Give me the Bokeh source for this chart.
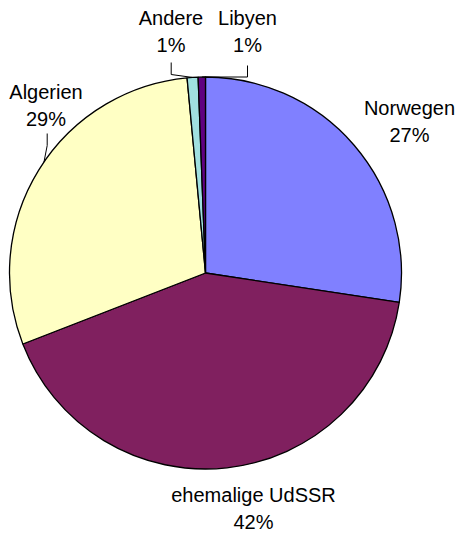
import math
from bokeh.plotting import figure
from bokeh.models import ColumnDataSource, Range1d
from bokeh.core.properties import value
from bokeh.embed import file_html
from bokeh.resources import INLINE

# ---- data (clockwise from 12 o'clock) ----
categories = ["Norwegen", "ehemalige UdSSR", "Algerien", "Andere", "Libyen"]
shares = [27.4, 41.7, 29.4, 0.9, 0.6]
colors = ["#8080FF", "#80205F", "#FFFFC4", "#A0E0E0", "#600080"]

# ---- layout (page pixel coordinates, converted below) ----
W, H = 459, 533
CX, CY, R = 205.0, 272.5, 196.0
# label block centres (page px)
label_page = [(409, 121), (253, 508), (45.5, 105), (170.5, 31), (247, 31)]
# leader lines: list of page points, final point lies on the circle at given angle (deg)
leaders = [
    ([(46.7, 133), (46.7, 145)], 145.5),
    ([(170.7, 62), (170.7, 74)], 93.8),
    ([(247.0, 65), (247.0, 76.5)], 91.0),
]

def py(y):
    return H - y

p = figure(width=W, height=H, x_range=Range1d(0, W), y_range=Range1d(0, H),
           output_backend="svg", toolbar_location=None,
           x_axis_location=None, y_axis_location=None, min_border=0)
p.grid.visible = False
p.outline_line_color = None
p.background_fill_color = "white"

total = sum(shares)
starts, ends = [], []
cum = 0.0
for s in shares:
    starts.append(math.pi / 2 - 2 * math.pi * cum / total)
    cum += s
    ends.append(math.pi / 2 - 2 * math.pi * cum / total)

src = ColumnDataSource(dict(cat=categories, start=starts, end=ends, color=colors))
p.wedge(x=CX, y=py(CY), radius=R, start_angle="start", end_angle="end", direction="clock",
        fill_color="color", line_color="black", line_width=1.3, source=src)

# leader lines
for pts, ang in leaders:
    a = math.radians(ang)
    end = (CX + R * math.cos(a), py(CY) + R * math.sin(a))
    xs = [x for x, _ in pts] + [end[0]]
    ys = [py(y) for _, y in pts] + [end[1]]
    p.line(xs, ys, line_color="black", line_width=1)

labels = [f"{c}\n{round(s * 100 / total)}%" for c, s in zip(categories, shares)]
lsrc = ColumnDataSource(dict(x=[x for x, _ in label_page], y=[py(y) for _, y in label_page], t=labels))
p.text(x="x", y="y", text="t", source=lsrc, text_align="center", text_baseline="middle",
       text_font=value("Liberation Sans"), text_font_size="20px", text_line_height=1.27,
       text_color="black")

open("out.html", "w").write(file_html(p, INLINE))
